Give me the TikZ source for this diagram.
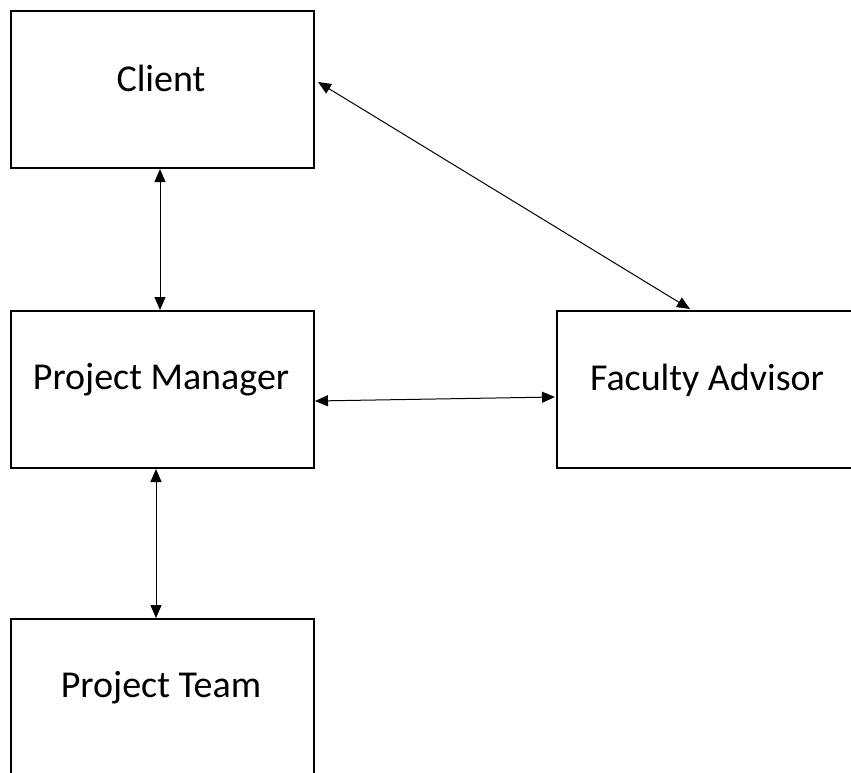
\documentclass[tikz,border=0pt]{standalone}
\usepackage{fontspec}
\setmainfont{Carlito}
\usetikzlibrary{arrows.meta}
\begin{document}
\begin{tikzpicture}[x=1pt,y=-1pt,
  box/.style={draw=black,line width=2pt,minimum width=303pt,minimum height=157pt,inner sep=0pt,anchor=north west},
  lbl/.style={font=\fontsize{38}{44}\selectfont,inner sep=0pt},
  link/.style={line width=1pt,{Triangle[length=13pt,width=11pt]}-{Triangle[length=13pt,width=11pt]}}]
\useasboundingbox (0,0) rectangle (851,772);
\fill[white] (0,0) rectangle (851,772);
\node[box] (client) at (10,10) {};
\node[box] (pm) at (10,310) {};
\node[box] (fa) at (556,310) {};
\node[box] (team) at (10,618) {};
\node[lbl] (tclient) at (161,78) {Client};
\node[lbl] (tpm) at (161,380) {Project Manager};
\node[lbl] (tfa) at (707,380) {Faculty Advisor};
\node[lbl] (tteam) at (161,688) {Project Team};
\coordinate (d1) at (318,82);
\coordinate (d2) at (690,309);
\coordinate (h1) at (315,401);
\coordinate (h2) at (555,397);
\draw[link] ([xshift=-2.5pt]client.south) -- ([xshift=-2.5pt]pm.north);
\draw[link] ([xshift=-6.5pt]pm.south) -- ([xshift=-6.5pt]team.north);
\draw[link] (h1) -- (h2);
\draw[link] (d1) -- (d2);
\end{tikzpicture}
\end{document}
